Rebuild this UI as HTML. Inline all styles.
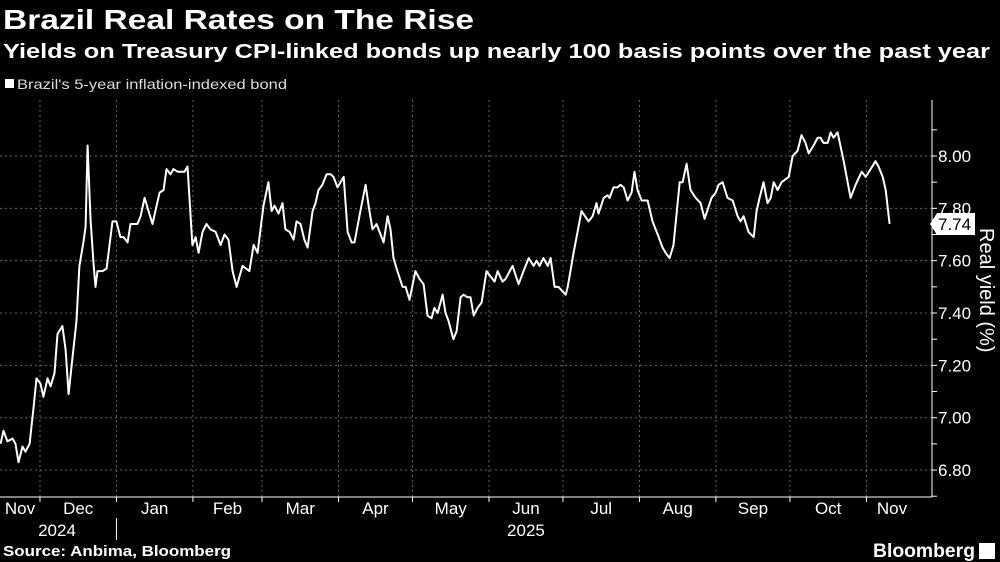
<!DOCTYPE html>
<html><head><meta charset="utf-8"><style>
body{margin:0;background:#000;width:1000px;height:562px;overflow:hidden;font-family:"Liberation Sans",sans-serif;color:#fff}
svg{position:absolute;left:0;top:0}
</style></head><body>
<svg width="1000" height="562" viewBox="0 0 1000 562">
<text x="3" y="29" font-size="28" font-weight="bold" fill="#fff" textLength="471" lengthAdjust="spacingAndGlyphs">Brazil Real Rates on The Rise</text>
<text x="3" y="58" font-size="20" font-weight="bold" fill="#fff" textLength="987" lengthAdjust="spacingAndGlyphs">Yields on Treasury CPI-linked bonds up nearly 100 basis points over the past year</text>
<rect x="5" y="79" width="9" height="9" fill="#fff"/>
<text x="17" y="89" font-size="14" fill="#ddd" textLength="270" lengthAdjust="spacingAndGlyphs">Brazil's 5-year inflation-indexed bond</text>
<g id="grid"></g><g id="axes"></g>
<path id="line" fill="none" stroke="#fff" stroke-width="2" stroke-linejoin="round"/>
<g id="last"></g>
<text transform="translate(980,228) rotate(90)" font-size="20" fill="#fff">Real yield (%)</text>
<text x="3" y="556" font-size="15" font-weight="bold" fill="#fff" textLength="228" lengthAdjust="spacingAndGlyphs">Source: Anbima, Bloomberg</text>
<text x="975" y="557" font-size="19" font-weight="bold" fill="#fff" text-anchor="end" textLength="102" lengthAdjust="spacingAndGlyphs">Bloomberg</text>
<rect x="979" y="543" width="16" height="16" fill="#fff"/>
</svg>
<script>
// days since 2024-11-15
const days=[0,1.2,2.8,4.9,6.1,7.3,8.9,10.1,11.8,13.4,14.6,16.2,17.4,19.1,20.3,21.9,23.1,25.1,26.4,27.6,29.2,30.8,32.0,33.6,34.5,35.3,36.5,37.7,38.5,39.3,41.4,43.0,45.4,47.0,48.6,49.9,51.5,52.7,55.5,56.8,58.4,60.0,61.6,62.8,64.5,66.1,67.3,68.9,70.1,71.8,73.0,74.6,75.8,77.8,79.1,80.3,81.9,83.5,85.1,87.2,89.2,90.8,92.4,94.1,95.7,98.1,100.9,102.6,104.2,105.4,106.6,108.6,109.9,111.1,112.7,114.3,115.5,117.2,118.8,120.0,121.6,123.2,124.5,126.5,127.7,128.9,130.5,132.2,133.8,135.0,136.6,139.1,140.7,142.3,143.5,145.9,148.0,149.2,150.8,152.4,155.3,156.9,158.1,159.3,160.9,163.0,164.2,165.8,168.2,169.9,171.5,173.1,174.7,175.9,177.2,179.2,180.4,181.6,183.6,184.9,186.5,187.7,189.3,190.5,191.8,193.4,195.0,197.0,198.6,200.3,201.5,203.5,204.7,207.6,210.0,212.0,214.1,216.1,217.3,218.5,220.1,221.8,223.0,224.6,226.2,229.1,229.9,232.3,235.5,238.4,240.0,241.6,242.4,244.5,246.1,246.9,248.5,250.1,251.3,252.6,254.2,255.8,257.0,258.2,259.9,262.3,264.3,266.4,268.4,269.6,271.2,272.8,275.3,276.5,278.1,279.7,281.8,283.8,285.4,288.2,289.9,291.1,292.7,294.7,296.8,298.8,300.0,301.2,303.2,305.3,306.5,307.7,309.3,310.9,312.2,313.4,315.0,316.6,319.5,321.1,323.1,324.7,326.3,327.6,329.6,331.2,332.4,333.6,335.3,336.5,337.7,339.3,341.8,344.6,346.6,349.1,350.7,352.7,354.7,355.9,357.6,358.8,360.4];
const yields=[6.90,6.95,6.91,6.92,6.90,6.83,6.89,6.87,6.90,7.04,7.15,7.13,7.08,7.15,7.12,7.17,7.32,7.35,7.26,7.09,7.23,7.37,7.58,7.67,7.73,8.04,7.76,7.59,7.50,7.56,7.56,7.57,7.75,7.75,7.69,7.69,7.67,7.74,7.74,7.77,7.84,7.79,7.74,7.79,7.86,7.87,7.95,7.93,7.95,7.94,7.94,7.94,7.96,7.66,7.69,7.63,7.71,7.74,7.72,7.71,7.66,7.70,7.68,7.56,7.50,7.58,7.56,7.66,7.63,7.72,7.81,7.90,7.79,7.81,7.78,7.82,7.72,7.71,7.68,7.75,7.74,7.68,7.65,7.79,7.82,7.87,7.89,7.93,7.93,7.92,7.88,7.92,7.71,7.67,7.67,7.79,7.89,7.81,7.72,7.74,7.67,7.77,7.72,7.61,7.56,7.50,7.50,7.45,7.56,7.53,7.51,7.39,7.38,7.42,7.40,7.47,7.40,7.37,7.30,7.33,7.46,7.47,7.46,7.46,7.39,7.42,7.44,7.56,7.54,7.52,7.56,7.52,7.53,7.58,7.51,7.56,7.61,7.58,7.60,7.58,7.61,7.58,7.61,7.50,7.50,7.47,7.50,7.63,7.79,7.75,7.77,7.82,7.78,7.84,7.85,7.84,7.88,7.88,7.89,7.88,7.83,7.86,7.94,7.87,7.83,7.83,7.75,7.70,7.65,7.63,7.61,7.66,7.90,7.90,7.97,7.87,7.84,7.82,7.76,7.84,7.86,7.89,7.90,7.84,7.83,7.77,7.75,7.77,7.71,7.69,7.79,7.84,7.90,7.82,7.84,7.90,7.87,7.90,7.92,8.00,8.02,8.08,8.05,8.01,8.04,8.07,8.07,8.05,8.05,8.09,8.07,8.09,7.98,7.84,7.89,7.94,7.92,7.95,7.98,7.96,7.92,7.87,7.74];
const yTicks=[6.8,7.0,7.2,7.4,7.6,7.8,8.0];
const monthLabels=["Nov","Dec","Jan","Feb","Mar","Apr","May","Jun","Jul","Aug","Sep","Oct","Nov"];
const monthStarts=[-14,16,47,78,106,137,167,198,228,259,290,320,351,381];
const yearLabels=[["2024",0],["2025",7]];
const NS="http://www.w3.org/2000/svg";
const X=d=>0.5+d*2.467, Y=v=>156+(8-v)*261.7;
const PR=932, PB=497, PT=100;
function mk(t,a,p){const e=document.createElementNS(NS,t);for(const k in a)e.setAttribute(k,a[k]);p.appendChild(e);return e;}
const grid=document.getElementById('grid'), axes=document.getElementById('axes');
yTicks.forEach(v=>{
 const l=mk('line',{x1:0,x2:PR,y1:Y(v),y2:Y(v),stroke:'#666','stroke-dasharray':'2,3','stroke-width':1},grid);
 
 
 const t=mk('text',{x:938,y:Y(v)+6,'font-size':17,fill:'#fff'},axes);
 t.textContent=v.toFixed(2);
 
 
});
for(let v=6.7;v<=8.15;v+=0.1){mk('line',{x1:PR,x2:PR+5,y1:Y(v),y2:Y(v),stroke:'#fff'},axes);}
monthStarts.forEach((d,i)=>{
 if(i>0&&i<monthStarts.length-1){
  const l=mk('line',{x1:X(d),x2:X(d),y1:PT,y2:PB,stroke:'#666','stroke-dasharray':'2,3'},grid);
  
  
  mk('line',{x1:X(d),x2:X(d),y1:PB,y2:PB+5,stroke:'#fff'},axes);
 }
 if(i<monthLabels.length){
  const a=Math.max(X(d),0), b=Math.min(X(monthStarts[i+1]),PR-20);
  const t=mk('text',{x:i==0?20:(i==12?892:(a+b)/2),y:514,'font-size':17,fill:'#fff','text-anchor':'middle'},axes);
  t.textContent=monthLabels[i];
  
  
 }
});
yearLabels.forEach(([s,i])=>{
 const t=mk('text',{x:i==0?57:(X(monthStarts[i])+X(monthStarts[i+1]))/2,y:536,'font-size':17,fill:'#fff','text-anchor':'middle'},axes);
 t.textContent=s;
 
 
});
mk('line',{x1:X(monthStarts[2]),x2:X(monthStarts[2]),y1:518,y2:540,stroke:'#fff'},axes);
mk('line',{x1:0,x2:PR,y1:PB,y2:PB,stroke:'#fff'},axes);
mk('line',{x1:PR,x2:PR,y1:PT,y2:PB,stroke:'#fff'},axes);
document.getElementById('line').setAttribute('d',days.map((d,i)=>(i?'L':'M')+X(d).toFixed(1)+','+Y(yields[i]).toFixed(1)).join(''));
const lv=yields[yields.length-1], ly=Y(lv), lg=document.getElementById('last');
const p=mk('path',{d:`M930,${ly}L937,${ly-11}H975V${ly+11}H937Z`,fill:'#fff'},lg);


const lt=mk('text',{x:938,y:ly+6,'font-size':17,fill:'#000'},lg);
lt.textContent=lv.toFixed(2);


</script>
</body></html>
